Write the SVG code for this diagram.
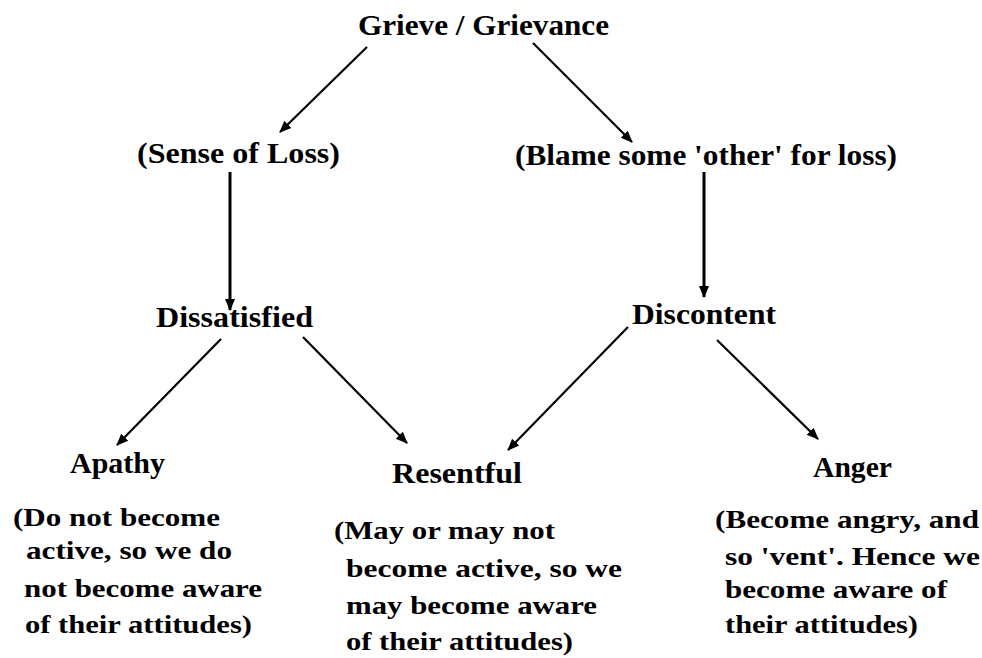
<svg xmlns="http://www.w3.org/2000/svg" width="982" height="658" viewBox="0 0 982 658">
<style>
text{font-family:"Liberation Serif","Times New Roman",serif;font-weight:bold;fill:#000;}
.t{font-size:29px;}
.d{font-size:25px;}
.c{stroke:#000;stroke-width:2.2;fill:none;marker-end:url(#ah);}
.v{stroke-width:3;}
</style>
<defs>
<marker id="ah" markerUnits="userSpaceOnUse" markerWidth="12" markerHeight="12" viewBox="0 0 12 12" refX="11" refY="6" orient="auto">
<path d="M0,1 L12,6 L0,11 Z" fill="#000"/>
</marker>
</defs>
<rect width="982" height="658" fill="#fff"/>
<g id="connectors">
<line class="c" x1="367" y1="47" x2="280" y2="132"/>
<line class="c" x1="533" y1="43" x2="632" y2="142"/>
<line class="c v" x1="230" y1="172" x2="230" y2="310"/>
<line class="c v" x1="704" y1="172" x2="704" y2="297"/>
<line class="c" x1="221" y1="339" x2="117" y2="445"/>
<line class="c" x1="303" y1="337" x2="407" y2="443"/>
<line class="c" x1="628" y1="327" x2="508" y2="450"/>
<line class="c" x1="717" y1="340" x2="818" y2="439"/>
</g>
<g id="grieve"><text class="t" x="358" y="35" textLength="251" lengthAdjust="spacingAndGlyphs">Grieve / Grievance</text></g>
<g id="sense"><text class="t" x="137" y="163" textLength="203" lengthAdjust="spacingAndGlyphs">(Sense of Loss)</text></g>
<g id="blame"><text class="t" x="515" y="165" textLength="382" lengthAdjust="spacingAndGlyphs">(Blame some 'other' for loss)</text></g>
<g id="dissatisfied"><text class="t" x="156" y="327" textLength="157" lengthAdjust="spacingAndGlyphs">Dissatisfied</text></g>
<g id="discontent"><text class="t" x="632" y="324" textLength="144" lengthAdjust="spacingAndGlyphs">Discontent</text></g>
<g id="apathy">
<text class="t" x="70" y="473" textLength="95" lengthAdjust="spacingAndGlyphs">Apathy</text>
<text class="d" x="13" y="526" textLength="207" lengthAdjust="spacingAndGlyphs">(Do not become</text>
<text class="d" x="26" y="559" textLength="206" lengthAdjust="spacingAndGlyphs">active, so we do</text>
<text class="d" x="24" y="597" textLength="238" lengthAdjust="spacingAndGlyphs">not become aware</text>
<text class="d" x="25" y="633" textLength="227" lengthAdjust="spacingAndGlyphs">of their attitudes)</text>
</g>
<g id="resentful">
<text class="t" x="392" y="483" textLength="130" lengthAdjust="spacingAndGlyphs">Resentful</text>
<text class="d" x="334" y="539" textLength="221" lengthAdjust="spacingAndGlyphs">(May or may not</text>
<text class="d" x="346" y="577" textLength="276" lengthAdjust="spacingAndGlyphs">become active, so we</text>
<text class="d" x="346" y="614" textLength="251" lengthAdjust="spacingAndGlyphs">may become aware</text>
<text class="d" x="346" y="650" textLength="227" lengthAdjust="spacingAndGlyphs">of their attitudes)</text>
</g>
<g id="anger">
<text class="t" x="813" y="477" textLength="79" lengthAdjust="spacingAndGlyphs">Anger</text>
<text class="d" x="715" y="528" textLength="264" lengthAdjust="spacingAndGlyphs">(Become angry, and</text>
<text class="d" x="725" y="565" textLength="255" lengthAdjust="spacingAndGlyphs">so 'vent'. Hence we</text>
<text class="d" x="725" y="598" textLength="222" lengthAdjust="spacingAndGlyphs">become aware of</text>
<text class="d" x="725" y="633" textLength="193" lengthAdjust="spacingAndGlyphs">their attitudes)</text>
</g>
</svg>
